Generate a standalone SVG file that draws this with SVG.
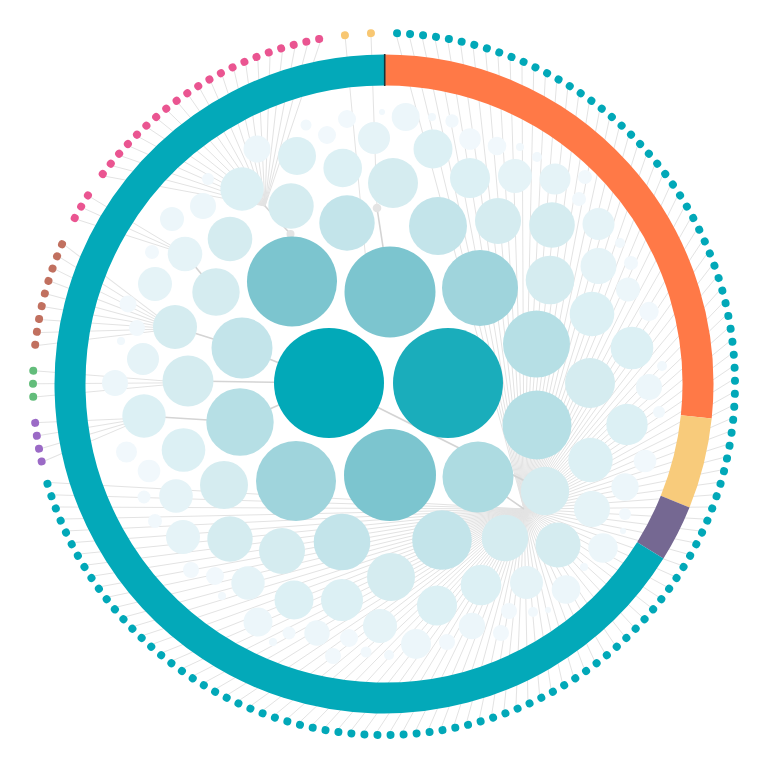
<svg xmlns="http://www.w3.org/2000/svg" xmlns:xlink="http://www.w3.org/1999/xlink" width="768" height="768" viewBox="0 0 768 768">
<style>
.rg{fill:none;stroke-width:31}
.lk{fill:none;stroke:#d4d4d4;stroke-width:1.6}
.dt{fill:#01a8b8}.dp{fill:#ea5591}.db{fill:#c1705f}.dg{fill:#63bd7b}.dv{fill:#9b6ac6}.dy{fill:#f8c772}
.t0{fill:#02a9b8}.t0b{fill:#1aadbb}.t1{fill:#7cc5cf}.t1b{fill:#9fd4dc}.t1c{fill:#addbe1}
.t2{fill:#b6dfe5}.t2b{fill:#c3e4ea}.t3{fill:#d5ecf0}.t3b{fill:#dcf0f4}.t4{fill:#e5f3f7}.t5{fill:#ecf6fa}.t6{fill:#f1f8fc}
.jn{fill:#e4e4e4}
</style>
<defs>
<circle id="dot" cx="384" cy="33" r="4"/>
</defs>
<rect width="768" height="768" fill="#ffffff"/>
<g id="connectors" fill="none" stroke="#e3e3e3" stroke-width="1">
<path d="M396.9 37.3L524 509"/><path d="M409.8 38L524 509"/><path d="M422.6 39.2L524 509"/><path d="M435.4 40.8L524 509"/><path d="M448.1 43L524 509"/><path d="M460.8 45.6L524 509"/><path d="M473.3 48.7L524 509"/><path d="M485.7 52.2L524 509"/><path d="M498 56.3L524 509"/><path d="M510.1 60.7L524 509"/>
<path d="M522 65.6L524 509"/><path d="M533.7 71L524 509"/><path d="M545.3 76.8L524 509"/><path d="M556.6 83L524 509"/><path d="M567.6 89.6L524 509"/><path d="M578.5 96.6L524 509"/><path d="M589 104L524 509"/><path d="M599.3 111.9L524 509"/><path d="M609.2 120L524 509"/><path d="M618.9 128.6L524 509"/>
<path d="M628.2 137.5L524 509"/><path d="M637.2 146.8L524 509"/><path d="M645.9 156.3L524 509"/><path d="M654.1 166.2L524 509"/><path d="M662 176.4L524 509"/><path d="M669.6 186.9L524 509"/><path d="M676.7 197.6L524 509"/><path d="M683.4 208.7L524 509"/><path d="M689.7 219.9L524 509"/><path d="M695.6 231.4L524 509"/>
<path d="M701.1 243.1L524 509"/><path d="M706.1 255L524 509"/><path d="M710.7 267L524 509"/><path d="M714.8 279.2L524 509"/><path d="M718.5 291.6L524 509"/><path d="M721.7 304.1L524 509"/><path d="M724.4 316.7L524 509"/><path d="M726.7 329.4L524 509"/><path d="M728.5 342.2L524 509"/><path d="M729.8 355L524 509"/>
<path d="M730.6 367.9L524 509"/><path d="M731 380.8L524 509"/><path d="M730.9 393.7L524 509"/><path d="M730.3 406.6L524 509"/><path d="M729.2 419.4L524 509"/><path d="M727.6 432.2L524 509"/><path d="M725.6 445L524 509"/><path d="M723.1 457.6L524 509"/><path d="M720.1 470.2L524 509"/><path d="M716.7 482.6L524 509"/>
<path d="M712.8 494.9L524 509"/><path d="M708.4 507L524 509"/><path d="M703.6 519L524 509"/><path d="M698.4 530.8L524 509"/><path d="M692.7 542.4L524 509"/><path d="M686.6 553.8L524 509"/><path d="M680.1 564.9L524 509"/><path d="M673.2 575.8L524 509"/><path d="M665.9 586.4L524 509"/><path d="M658.1 596.7L524 509"/>
<path d="M650.1 606.8L524 509"/><path d="M641.6 616.5L524 509"/><path d="M632.8 625.9L524 509"/><path d="M623.6 635L524 509"/><path d="M614.1 643.7L524 509"/><path d="M604.3 652.1L524 509"/><path d="M594.2 660.1L524 509"/><path d="M583.8 667.7L524 509"/><path d="M573.1 675L524 509"/><path d="M562.1 681.8L524 509"/>
<path d="M550.9 688.2L524 509"/><path d="M539.5 694.2L524 509"/><path d="M527.9 699.8L524 509"/><path d="M516 704.9L524 509"/><path d="M504 709.6L524 509"/><path d="M491.8 713.8L524 509"/><path d="M479.5 717.6L524 509"/><path d="M467 720.9L524 509"/><path d="M454.5 723.8L524 509"/><path d="M441.8 726.1L524 509"/>
<path d="M429 728.1L524 509"/><path d="M416.2 729.5L524 509"/><path d="M403.3 730.5L524 509"/><path d="M390.5 730.9L524 509"/><path d="M377.5 730.9L524 509"/><path d="M364.7 730.5L524 509"/><path d="M351.8 729.5L524 509"/><path d="M339 728.1L524 509"/><path d="M326.2 726.1L524 509"/><path d="M313.5 723.8L524 509"/>
<path d="M301 720.9L524 509"/><path d="M288.5 717.6L524 509"/><path d="M276.2 713.8L524 509"/><path d="M264 709.6L524 509"/><path d="M252 704.9L524 509"/><path d="M240.1 699.8L524 509"/><path d="M228.5 694.2L524 509"/><path d="M217.1 688.2L524 509"/><path d="M205.9 681.8L524 509"/><path d="M194.9 675L524 509"/>
<path d="M184.2 667.7L524 509"/><path d="M173.8 660.1L524 509"/><path d="M163.7 652.1L524 509"/><path d="M153.9 643.7L524 509"/><path d="M144.4 635L524 509"/><path d="M135.2 625.9L524 509"/><path d="M126.4 616.5L524 509"/><path d="M117.9 606.8L524 509"/><path d="M109.9 596.7L524 509"/><path d="M102.1 586.4L524 509"/>
<path d="M94.8 575.8L524 509"/><path d="M87.9 564.9L524 509"/><path d="M81.4 553.8L524 509"/><path d="M75.3 542.4L524 509"/><path d="M69.6 530.8L524 509"/><path d="M64.4 519L524 509"/><path d="M59.6 507L524 509"/><path d="M55.2 494.9L524 509"/><path d="M51.3 482.6L524 509"/>
<g transform="rotate(-0.5 384 384)">
<path d="M44.9 457.6L144 416"/><path d="M42.4 445L144 416"/><path d="M40.4 432.2L144 416"/><path d="M38.8 419.4L144 416"/>
<path d="M37.2 393.7L188 381"/><path d="M37 380.8L188 381"/><path d="M37.4 367.9L188 381"/>
<path d="M39.5 342.2L175 327"/><path d="M41.3 329.4L175 327"/><path d="M43.6 316.7L175 327"/><path d="M46.3 304.1L175 327"/><path d="M49.5 291.6L175 327"/><path d="M53.2 279.2L175 327"/><path d="M57.3 267L175 327"/><path d="M61.9 255L175 327"/><path d="M66.9 243.1L175 327"/>
</g>
<path d="M78.3 219.9L185 254"/><path d="M84.6 208.7L185 254"/><path d="M91.3 197.6L185 254"/>
<path d="M106 176.4L265 206"/><path d="M113.9 166.2L265 206"/><path d="M122.1 156.3L265 206"/><path d="M130.8 146.8L265 206"/><path d="M139.8 137.5L265 206"/><path d="M149.1 128.6L265 206"/><path d="M158.8 120L265 206"/><path d="M168.7 111.9L265 206"/><path d="M179 104L265 206"/><path d="M189.5 96.6L265 206"/><path d="M200.4 89.6L265 206"/>
<path d="M211.4 83L265 206"/><path d="M222.7 76.8L265 206"/><path d="M234.3 71L265 206"/><path d="M246 65.6L265 206"/><path d="M257.9 60.7L265 206"/><path d="M270 56.3L265 206"/><path d="M282.3 52.2L265 206"/><path d="M294.7 48.7L265 206"/><path d="M307.2 45.6L265 206"/><path d="M319.9 43L265 206"/>
<path d="M345.4 39.2L366 262"/><path d="M371.1 37.3L377 208"/>
<path class="lk" d="M265 206L290.5 234L292 281"/>
<path class="lk" d="M377 208L390 292"/>
<path class="lk" d="M185 254L216 292"/>
<path class="lk" d="M175 327L242 348L329 383"/>
<path class="lk" d="M188 381L329 383"/>
<path class="lk" d="M144 416L240 422L329 383"/>
<path class="lk" d="M329 383L545 491"/>
<path class="lk" d="M524 509L478 477"/>
</g>
<g id="ring">
<path class="rg" stroke="#ff7947" d="M384 70A314 314 0 0 1 696.28 416.82"/>
<path class="rg" stroke="#f8cb7b" d="M696.28 416.82A314 314 0 0 1 675.13 501.63"/>
<path class="rg" stroke="#756892" d="M675.13 501.63A314 314 0 0 1 650.29 550.39"/>
<path class="rg" stroke="#03a9b9" d="M650.29 550.39A314 314 0 1 1 384 70"/>
<line x1="384.7" y1="54" x2="384.7" y2="86" stroke="#17343a" stroke-width="1.6"/>
</g>
<g id="junctions">
<circle id="j1" class="jn" cx="290.5" cy="234" r="4"/>
<circle id="j2" class="jn" cx="377" cy="208" r="4.3"/>
</g>
<g id="bubbles">
<g id="b1"><circle class="t0" cx="329" cy="383" r="55"/></g>
<g id="b2"><circle class="t0b" cx="448" cy="383" r="55"/></g>
<g id="b3"><circle class="t1" cx="292" cy="281.5" r="45"/></g>
<g id="b4"><circle class="t1" cx="390" cy="292" r="45.5"/></g>
<g id="b5"><circle class="t1b" cx="480" cy="288" r="38"/></g>
<g id="b6"><circle class="t1b" cx="296" cy="481" r="40"/></g>
<g id="b7"><circle class="t1" cx="390" cy="475" r="46"/></g>
<g id="b8"><circle class="t1c" cx="478" cy="477" r="35.5"/></g>
<g id="b9"><circle class="t2" cx="536.5" cy="344" r="33.5"/></g>
<g id="b10"><circle class="t2" cx="537" cy="425" r="34.5"/></g>
<g id="b11"><circle class="t2" cx="240" cy="422" r="33.7"/></g>
<g id="b12"><circle class="t2b" cx="242" cy="348" r="30.5"/></g>
<g id="b13"><circle class="t2b" cx="347" cy="223" r="27.7"/></g>
<g id="b14"><circle class="t2b" cx="438" cy="226" r="29"/></g>
<g id="b15"><circle class="t2b" cx="442" cy="540" r="29.8"/></g>
<g id="b16"><circle class="t2b" cx="342" cy="542" r="28.3"/></g>
<g id="b17"><circle class="t3" cx="393" cy="183" r="25"/></g>
<g id="b18"><circle class="t3" cx="188" cy="381" r="25.5"/></g>
<g id="b19"><circle class="t3" cx="590" cy="383" r="25"/></g>
<g id="b20"><circle class="t3" cx="550" cy="280" r="24.3"/></g>
<g id="b21"><circle class="t3" cx="545" cy="491" r="24.2"/></g>
<g id="b22"><circle class="t3" cx="224" cy="485" r="24"/></g>
<g id="b23"><circle class="t3" cx="391" cy="577" r="24"/></g>
<g id="b24"><circle class="t3" cx="216" cy="292" r="23.7"/></g>
<g id="b25"><circle class="t3" cx="505" cy="538" r="23.3"/></g>
<g id="b26"><circle class="t3" cx="498" cy="221" r="23"/></g>
<g id="b27"><circle class="t3" cx="282" cy="551" r="23"/></g>
<g id="b28"><circle class="t3" cx="552" cy="225" r="22.8"/></g>
<g id="b29"><circle class="t3" cx="291" cy="206" r="22.7"/></g>
<g id="b30"><circle class="t3" cx="230" cy="539" r="22.7"/></g>
<g id="b31"><circle class="t3" cx="558" cy="545" r="22.5"/></g>
<g id="b32"><circle class="t3" cx="230" cy="239" r="22.3"/></g>
<g id="b33"><circle class="t3b" cx="592" cy="314" r="22.3"/></g>
<g id="b34"><circle class="t3b" cx="590.5" cy="460" r="22.2"/></g>
<g id="b35"><circle class="t3" cx="175" cy="327" r="22"/></g>
<g id="b36"><circle class="t3b" cx="183.5" cy="450" r="21.8"/></g>
<g id="b37"><circle class="t3b" cx="242" cy="189" r="21.7"/></g>
<g id="b38"><circle class="t3b" cx="144" cy="416" r="21.7"/></g>
<g id="b39"><circle class="t3b" cx="632" cy="348" r="21.3"/></g>
<g id="b40"><circle class="t3b" cx="342" cy="600" r="21"/></g>
<g id="b41"><circle class="t3b" cx="627" cy="424.5" r="20.7"/></g>
<g id="b42"><circle class="t3b" cx="481" cy="585" r="20.3"/></g>
<g id="b43"><circle class="t3b" cx="470" cy="178" r="20"/></g>
<g id="b44"><circle class="t3b" cx="437" cy="605.5" r="20"/></g>
<g id="b45"><circle class="t3b" cx="433" cy="149" r="19.5"/></g>
<g id="b46"><circle class="t3b" cx="294" cy="600" r="19.5"/></g>
<g id="b47"><circle class="t3b" cx="342.7" cy="168" r="19.3"/></g>
<g id="b48"><circle class="t3b" cx="297" cy="156" r="19"/></g>
<g id="b49"><circle class="t4" cx="598.5" cy="266" r="18"/></g>
<g id="b50"><circle class="t4" cx="592" cy="509" r="18"/></g>
<g id="b51"><circle class="t4" cx="185" cy="254" r="17.3"/></g>
<g id="b52"><circle class="t4" cx="515" cy="176" r="17"/></g>
<g id="b53"><circle class="t4" cx="155" cy="284" r="17"/></g>
<g id="b54"><circle class="t4" cx="183" cy="537" r="17"/></g>
<g id="b55"><circle class="t4" cx="176" cy="496" r="16.8"/></g>
<g id="b56"><circle class="t4" cx="380" cy="626" r="17"/></g>
<g id="b57"><circle class="t4" cx="248" cy="583" r="16.7"/></g>
<g id="b58"><circle class="t4" cx="526.5" cy="582.5" r="16.5"/></g>
<g id="b59"><circle class="t4" cx="374" cy="138" r="16"/></g>
<g id="b60"><circle class="t4" cx="598.5" cy="224" r="16"/></g>
<g id="b61"><circle class="t4" cx="143" cy="359" r="16"/></g>
<g id="b62"><circle class="t4" cx="555" cy="179" r="15.5"/></g>
<g id="b63"><circle class="t5" cx="416" cy="644" r="15"/></g>
<g id="b64"><circle class="t5" cx="603" cy="548" r="14.7"/></g>
<g id="b65"><circle class="t5" cx="258" cy="622" r="14.5"/></g>
<g id="b66"><circle class="t5" cx="566" cy="589.5" r="14.3"/></g>
<g id="b67"><circle class="t5" cx="405.7" cy="117" r="14"/></g>
<g id="b68"><circle class="t5" cx="625" cy="487" r="13.7"/></g>
<g id="b69"><circle class="t5" cx="257" cy="149" r="13.5"/></g>
<g id="b70"><circle class="t5" cx="472" cy="626" r="13.2"/></g>
<g id="b71"><circle class="t5" cx="649" cy="387" r="13"/></g>
<g id="b72"><circle class="t5" cx="203" cy="206" r="13"/></g>
<g id="b73"><circle class="t5" cx="115" cy="383" r="13"/></g>
<g id="b74"><circle class="t5" cx="317" cy="633" r="12.7"/></g>
<g id="b75"><circle class="t5" cx="172" cy="219" r="12"/></g>
<g id="b76"><circle class="t5" cx="628" cy="289.5" r="12"/></g>
<g id="b77"><circle class="t6" cx="149" cy="471" r="11.3"/></g>
<g id="b78"><circle class="t6" cx="645" cy="461" r="11.3"/></g>
<g id="b79"><circle class="t6" cx="470" cy="139" r="10.8"/></g>
<g id="b80"><circle class="t6" cx="126.5" cy="452" r="10.5"/></g>
<g id="b81"><circle class="t6" cx="649" cy="311.5" r="9.7"/></g>
<g id="b82"><circle class="t6" cx="497" cy="146" r="9.3"/></g>
<g id="b83"><circle class="t6" cx="347" cy="119" r="9"/></g>
<g id="b84"><circle class="t6" cx="327" cy="135" r="9"/></g>
<g id="b85"><circle class="t6" cx="215" cy="576" r="9"/></g>
<g id="b86"><circle class="t6" cx="349" cy="638" r="9"/></g>
<g id="b87"><circle class="t6" cx="137" cy="328" r="8"/></g>
<g id="b88"><circle class="t6" cx="128" cy="304" r="8.5"/></g>
<g id="b89"><circle class="t6" cx="191" cy="570" r="8"/></g>
<g id="b90"><circle class="t6" cx="333" cy="656" r="8"/></g>
<g id="b91"><circle class="t6" cx="447" cy="642" r="8"/></g>
<g id="b92"><circle class="t6" cx="501" cy="633" r="8"/></g>
<g id="b93"><circle class="t6" cx="509" cy="611" r="8"/></g>
<g id="b94"><circle class="t6" cx="631" cy="263" r="7"/></g>
<g id="b95"><circle class="t6" cx="585" cy="177" r="7"/></g>
<g id="b96"><circle class="t6" cx="579" cy="199" r="7"/></g>
<g id="b97"><circle class="t6" cx="152" cy="252" r="7"/></g>
<g id="b98"><circle class="t6" cx="155" cy="521" r="7"/></g>
<g id="b99"><circle class="t6" cx="144" cy="497" r="6.5"/></g>
<g id="b100"><circle class="t6" cx="289" cy="633" r="6.5"/></g>
<g id="b101"><circle class="t6" cx="452" cy="121" r="6.7"/></g>
<g id="b102"><circle class="t6" cx="208" cy="179" r="6"/></g>
<g id="b103"><circle class="t6" cx="659" cy="412" r="6"/></g>
<g id="b104"><circle class="t6" cx="625" cy="514" r="6"/></g>
<g id="b105"><circle class="t6" cx="306" cy="125" r="5.5"/></g>
<g id="b106"><circle class="t6" cx="366" cy="652" r="5.5"/></g>
<g id="b107"><circle class="t6" cx="537" cy="157" r="5"/></g>
<g id="b108"><circle class="t6" cx="620" cy="243" r="5"/></g>
<g id="b109"><circle class="t6" cx="662" cy="366" r="5"/></g>
<g id="b110"><circle class="t6" cx="533" cy="612" r="5"/></g>
<g id="b111"><circle class="t6" cx="389" cy="655" r="5"/></g>
<g id="b112"><circle class="t6" cx="432" cy="117" r="4"/></g>
<g id="b113"><circle class="t6" cx="520" cy="147" r="4"/></g>
<g id="b114"><circle class="t6" cx="121" cy="341" r="4"/></g>
<g id="b115"><circle class="t6" cx="222" cy="596" r="4"/></g>
<g id="b116"><circle class="t6" cx="273" cy="642" r="4"/></g>
<g id="b117"><circle class="t6" cx="584" cy="567" r="4"/></g>
<g id="b118"><circle class="t6" cx="623" cy="531" r="3"/></g>
<g id="b119"><circle class="t6" cx="548" cy="610" r="3"/></g>
<g id="b120"><circle class="t6" cx="382" cy="112" r="3"/></g>
</g>
<g id="leaves">
<g id="teal-leaves" class="dt">
<use href="#dot" transform="rotate(2.13 384 384)"/><use href="#dot" transform="rotate(4.26 384 384)"/><use href="#dot" transform="rotate(6.39 384 384)"/><use href="#dot" transform="rotate(8.52 384 384)"/><use href="#dot" transform="rotate(10.65 384 384)"/><use href="#dot" transform="rotate(12.78 384 384)"/><use href="#dot" transform="rotate(14.91 384 384)"/><use href="#dot" transform="rotate(17.04 384 384)"/><use href="#dot" transform="rotate(19.17 384 384)"/><use href="#dot" transform="rotate(21.3 384 384)"/>
<use href="#dot" transform="rotate(23.43 384 384)"/><use href="#dot" transform="rotate(25.56 384 384)"/><use href="#dot" transform="rotate(27.69 384 384)"/><use href="#dot" transform="rotate(29.82 384 384)"/><use href="#dot" transform="rotate(31.95 384 384)"/><use href="#dot" transform="rotate(34.08 384 384)"/><use href="#dot" transform="rotate(36.21 384 384)"/><use href="#dot" transform="rotate(38.34 384 384)"/><use href="#dot" transform="rotate(40.47 384 384)"/><use href="#dot" transform="rotate(42.6 384 384)"/>
<use href="#dot" transform="rotate(44.73 384 384)"/><use href="#dot" transform="rotate(46.86 384 384)"/><use href="#dot" transform="rotate(48.99 384 384)"/><use href="#dot" transform="rotate(51.12 384 384)"/><use href="#dot" transform="rotate(53.25 384 384)"/><use href="#dot" transform="rotate(55.38 384 384)"/><use href="#dot" transform="rotate(57.51 384 384)"/><use href="#dot" transform="rotate(59.64 384 384)"/><use href="#dot" transform="rotate(61.78 384 384)"/><use href="#dot" transform="rotate(63.91 384 384)"/>
<use href="#dot" transform="rotate(66.04 384 384)"/><use href="#dot" transform="rotate(68.17 384 384)"/><use href="#dot" transform="rotate(70.3 384 384)"/><use href="#dot" transform="rotate(72.43 384 384)"/><use href="#dot" transform="rotate(74.56 384 384)"/><use href="#dot" transform="rotate(76.69 384 384)"/><use href="#dot" transform="rotate(78.82 384 384)"/><use href="#dot" transform="rotate(80.95 384 384)"/><use href="#dot" transform="rotate(83.08 384 384)"/><use href="#dot" transform="rotate(85.21 384 384)"/>
<use href="#dot" transform="rotate(87.34 384 384)"/><use href="#dot" transform="rotate(89.47 384 384)"/><use href="#dot" transform="rotate(91.6 384 384)"/><use href="#dot" transform="rotate(93.73 384 384)"/><use href="#dot" transform="rotate(95.86 384 384)"/><use href="#dot" transform="rotate(97.99 384 384)"/><use href="#dot" transform="rotate(100.12 384 384)"/><use href="#dot" transform="rotate(102.25 384 384)"/><use href="#dot" transform="rotate(104.38 384 384)"/><use href="#dot" transform="rotate(106.51 384 384)"/>
<use href="#dot" transform="rotate(108.64 384 384)"/><use href="#dot" transform="rotate(110.77 384 384)"/><use href="#dot" transform="rotate(112.9 384 384)"/><use href="#dot" transform="rotate(115.03 384 384)"/><use href="#dot" transform="rotate(117.16 384 384)"/><use href="#dot" transform="rotate(119.29 384 384)"/><use href="#dot" transform="rotate(121.42 384 384)"/><use href="#dot" transform="rotate(123.55 384 384)"/><use href="#dot" transform="rotate(125.68 384 384)"/><use href="#dot" transform="rotate(127.81 384 384)"/>
<use href="#dot" transform="rotate(129.94 384 384)"/><use href="#dot" transform="rotate(132.07 384 384)"/><use href="#dot" transform="rotate(134.2 384 384)"/><use href="#dot" transform="rotate(136.33 384 384)"/><use href="#dot" transform="rotate(138.46 384 384)"/><use href="#dot" transform="rotate(140.59 384 384)"/><use href="#dot" transform="rotate(142.72 384 384)"/><use href="#dot" transform="rotate(144.85 384 384)"/><use href="#dot" transform="rotate(146.98 384 384)"/><use href="#dot" transform="rotate(149.11 384 384)"/>
<use href="#dot" transform="rotate(151.24 384 384)"/><use href="#dot" transform="rotate(153.37 384 384)"/><use href="#dot" transform="rotate(155.5 384 384)"/><use href="#dot" transform="rotate(157.63 384 384)"/><use href="#dot" transform="rotate(159.76 384 384)"/><use href="#dot" transform="rotate(161.89 384 384)"/><use href="#dot" transform="rotate(164.02 384 384)"/><use href="#dot" transform="rotate(166.15 384 384)"/><use href="#dot" transform="rotate(168.28 384 384)"/><use href="#dot" transform="rotate(170.41 384 384)"/>
<use href="#dot" transform="rotate(172.54 384 384)"/><use href="#dot" transform="rotate(174.67 384 384)"/><use href="#dot" transform="rotate(176.8 384 384)"/><use href="#dot" transform="rotate(178.93 384 384)"/><use href="#dot" transform="rotate(181.07 384 384)"/><use href="#dot" transform="rotate(183.2 384 384)"/><use href="#dot" transform="rotate(185.33 384 384)"/><use href="#dot" transform="rotate(187.46 384 384)"/><use href="#dot" transform="rotate(189.59 384 384)"/><use href="#dot" transform="rotate(191.72 384 384)"/>
<use href="#dot" transform="rotate(193.85 384 384)"/><use href="#dot" transform="rotate(195.98 384 384)"/><use href="#dot" transform="rotate(198.11 384 384)"/><use href="#dot" transform="rotate(200.24 384 384)"/><use href="#dot" transform="rotate(202.37 384 384)"/><use href="#dot" transform="rotate(204.5 384 384)"/><use href="#dot" transform="rotate(206.63 384 384)"/><use href="#dot" transform="rotate(208.76 384 384)"/><use href="#dot" transform="rotate(210.89 384 384)"/><use href="#dot" transform="rotate(213.02 384 384)"/>
<use href="#dot" transform="rotate(215.15 384 384)"/><use href="#dot" transform="rotate(217.28 384 384)"/><use href="#dot" transform="rotate(219.41 384 384)"/><use href="#dot" transform="rotate(221.54 384 384)"/><use href="#dot" transform="rotate(223.67 384 384)"/><use href="#dot" transform="rotate(225.8 384 384)"/><use href="#dot" transform="rotate(227.93 384 384)"/><use href="#dot" transform="rotate(230.06 384 384)"/><use href="#dot" transform="rotate(232.19 384 384)"/><use href="#dot" transform="rotate(234.32 384 384)"/>
<use href="#dot" transform="rotate(236.45 384 384)"/><use href="#dot" transform="rotate(238.58 384 384)"/><use href="#dot" transform="rotate(240.71 384 384)"/><use href="#dot" transform="rotate(242.84 384 384)"/><use href="#dot" transform="rotate(244.97 384 384)"/><use href="#dot" transform="rotate(247.1 384 384)"/><use href="#dot" transform="rotate(249.23 384 384)"/><use href="#dot" transform="rotate(251.36 384 384)"/><use href="#dot" transform="rotate(253.49 384 384)"/>
</g>
<g id="purple-leaves" class="dv">
<use href="#dot" transform="rotate(-102.75 384 384)"/><use href="#dot" transform="rotate(-100.62 384 384)"/><use href="#dot" transform="rotate(-98.49 384 384)"/><use href="#dot" transform="rotate(-96.36 384 384)"/>
</g>
<g id="green-leaves" class="dg">
<use href="#dot" transform="rotate(-92.1 384 384)"/><use href="#dot" transform="rotate(-89.97 384 384)"/><use href="#dot" transform="rotate(-87.84 384 384)"/>
</g>
<g id="brown-leaves" class="db">
<use href="#dot" transform="rotate(-83.58 384 384)"/><use href="#dot" transform="rotate(-81.45 384 384)"/><use href="#dot" transform="rotate(-79.32 384 384)"/><use href="#dot" transform="rotate(-77.19 384 384)"/><use href="#dot" transform="rotate(-75.06 384 384)"/><use href="#dot" transform="rotate(-72.93 384 384)"/><use href="#dot" transform="rotate(-70.8 384 384)"/><use href="#dot" transform="rotate(-68.67 384 384)"/><use href="#dot" transform="rotate(-66.54 384 384)"/>
</g>
<g id="pink-leaves" class="dp">
<use href="#dot" transform="rotate(-61.78 384 384)"/><use href="#dot" transform="rotate(-59.64 384 384)"/><use href="#dot" transform="rotate(-57.51 384 384)"/>
<use href="#dot" transform="rotate(-53.25 384 384)"/><use href="#dot" transform="rotate(-51.12 384 384)"/><use href="#dot" transform="rotate(-48.99 384 384)"/><use href="#dot" transform="rotate(-46.86 384 384)"/><use href="#dot" transform="rotate(-44.73 384 384)"/><use href="#dot" transform="rotate(-42.6 384 384)"/><use href="#dot" transform="rotate(-40.47 384 384)"/><use href="#dot" transform="rotate(-38.34 384 384)"/><use href="#dot" transform="rotate(-36.21 384 384)"/><use href="#dot" transform="rotate(-34.08 384 384)"/><use href="#dot" transform="rotate(-31.95 384 384)"/>
<use href="#dot" transform="rotate(-29.82 384 384)"/><use href="#dot" transform="rotate(-27.69 384 384)"/><use href="#dot" transform="rotate(-25.56 384 384)"/><use href="#dot" transform="rotate(-23.43 384 384)"/><use href="#dot" transform="rotate(-21.3 384 384)"/><use href="#dot" transform="rotate(-19.17 384 384)"/><use href="#dot" transform="rotate(-17.04 384 384)"/><use href="#dot" transform="rotate(-14.91 384 384)"/><use href="#dot" transform="rotate(-12.78 384 384)"/><use href="#dot" transform="rotate(-10.65 384 384)"/>
</g>
<g id="yellow-leaves" class="dy">
<use href="#dot" transform="rotate(-6.39 384 384)"/><use href="#dot" transform="rotate(-2.13 384 384)"/>
</g>
</g>
</svg>
